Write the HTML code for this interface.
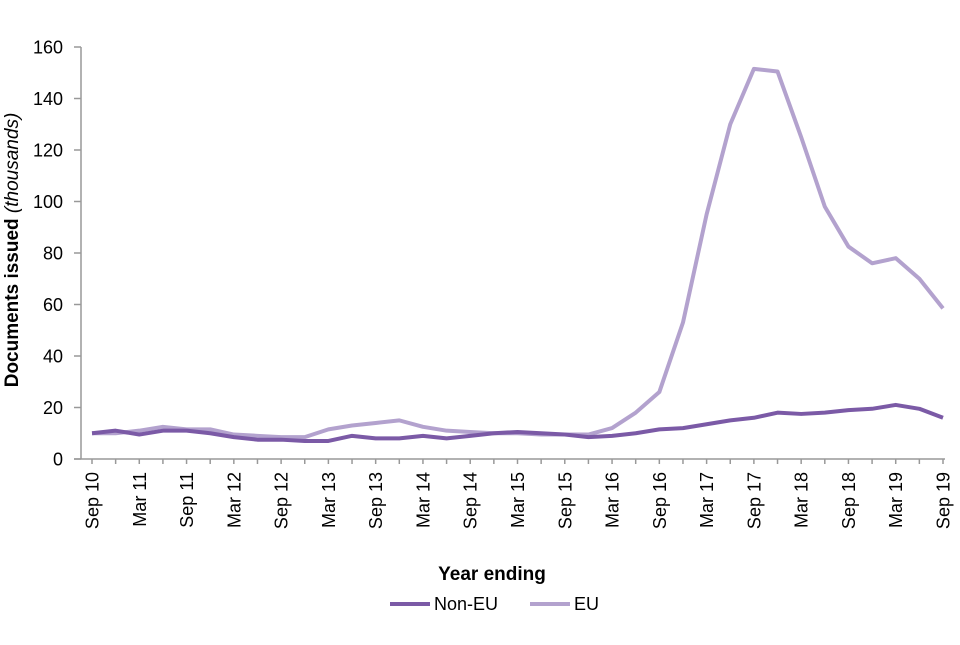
<!DOCTYPE html>
<html><head><meta charset="utf-8"><style>
body{margin:0;background:#fff;font-family:"Liberation Sans",Arial,sans-serif}
</style></head><body>
<svg id="chart" width="960" height="640" xmlns="http://www.w3.org/2000/svg" font-family="Liberation Sans, Arial, sans-serif">
<g id="grid"></g>
<g id="series"></g>
<g id="labels"></g>
<text transform="translate(18,250) rotate(-90)" text-anchor="middle" font-size="19" font-weight="bold">Documents issued <tspan font-style="italic" font-weight="normal">(thousands)</tspan></text>
<text x="492" y="580" text-anchor="middle" font-size="19" font-weight="bold">Year ending</text>
<g>
<line x1="390" y1="604" x2="430" y2="604" stroke="#7b5aa6" stroke-width="4"/>
<text x="434" y="610" font-size="18">Non-EU</text>
<line x1="530" y1="604" x2="570" y2="604" stroke="#b3a2ce" stroke-width="4"/>
<text x="574" y="610" font-size="18">EU</text>
</g>
</svg>
<script>
const quarters=["Sep 10","Dec 10","Mar 11","Jun 11","Sep 11","Dec 11","Mar 12","Jun 12","Sep 12","Dec 12","Mar 13","Jun 13","Sep 13","Dec 13","Mar 14","Jun 14","Sep 14","Dec 14","Mar 15","Jun 15","Sep 15","Dec 15","Mar 16","Jun 16","Sep 16","Dec 16","Mar 17","Jun 17","Sep 17","Dec 17","Mar 18","Jun 18","Sep 18","Dec 18","Mar 19","Jun 19","Sep 19"];
const nonEU=[10,11,9.5,11,11,10,8.5,7.5,7.5,7,7,9,8,8,9,8,9,10,10.5,10,9.5,8.5,9,10,11.5,12,13.5,15,16,18,17.5,18,19,19.5,21,19.5,16];
const eu=[10,10,11,12.5,11.5,11.5,9.5,9,8.5,8.5,11.5,13,14,15,12.5,11,10.5,10,10,9.5,9.5,9.5,12,18,26,53,95,130,151.5,150.5,125,98,82.5,76,78,70,58.5];
const yTicks=[0,20,40,60,80,100,120,140,160];
const NS="http://www.w3.org/2000/svg";
const X0=92,X1=943,Y0=459,Y1=47,YMAX=160;
const xs=i=>X0+(X1-X0)*i/(quarters.length-1);
const ys=v=>Y0-(Y0-Y1)*v/YMAX;
function mk(tag,attrs,parent){const e=document.createElementNS(NS,tag);for(const k in attrs)e.setAttribute(k,attrs[k]);parent.appendChild(e);return e;}
const grid=document.getElementById('grid'),lab=document.getElementById('labels'),ser=document.getElementById('series');
let ax=mk('line',{x1:81,y1:Y1,x2:81,y2:Y0,stroke:'#999','stroke-width':1.5},grid);


let bx=mk('line',{x1:74,y1:Y0,x2:X1+2,y2:Y0,stroke:'#999','stroke-width':1.5},grid);


yTicks.forEach(v=>{
 mk('line',{x1:74,y1:ys(v),x2:81,y2:ys(v),stroke:'#999','stroke-width':1.5},grid);
 const t=mk('text',{x:63,y:ys(v)+6.5,'text-anchor':'end','font-size':18},lab);
 t.textContent=v;
 
 
});
quarters.forEach((q,i)=>{
 mk('line',{x1:xs(i),y1:Y0,x2:xs(i),y2:Y0+5,stroke:'#999','stroke-width':1.5},grid);
 if(i%2===0){
  const t=mk('text',{transform:`translate(${xs(i)+6.5},472) rotate(-90)`,'text-anchor':'end','font-size':18},lab);
  t.textContent=q;
  
  
 }
});
function line(data,color,name){
 const p=mk('polyline',{points:data.map((v,i)=>xs(i)+','+ys(v)).join(' '),fill:'none',stroke:color,'stroke-width':4,'stroke-linejoin':'round'},ser);
 
 
}
line(eu,'#b3a2ce','eu-line');
line(nonEU,'#7b5aa6','non-eu-line');
</script>
</body></html>
